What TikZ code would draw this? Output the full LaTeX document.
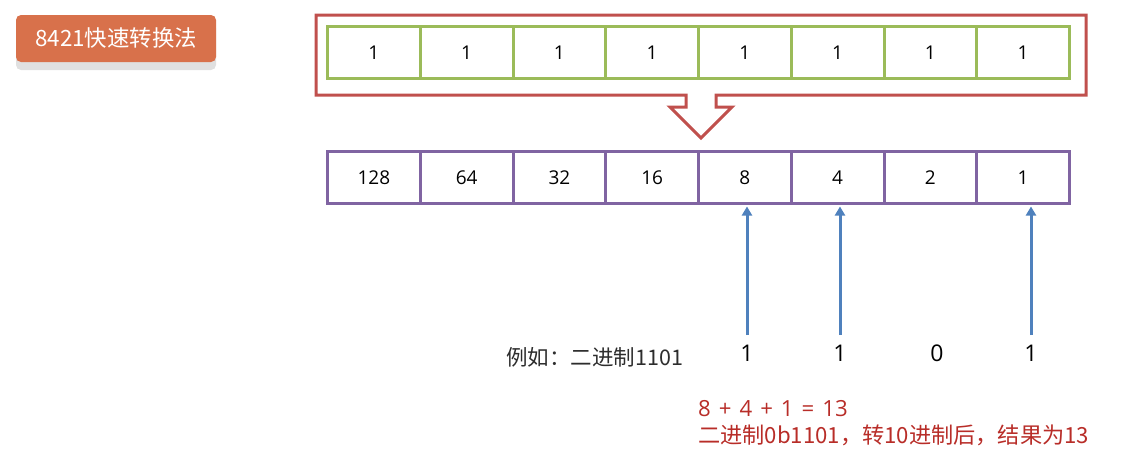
\documentclass[tikz,border=0pt]{standalone}
\usepackage{fontspec}
\setmainfont{Noto Sans CJK SC}
\newfontfamily\latinfont{Open Sans}
\usetikzlibrary{arrows.meta,shadows}
\definecolor{boxred}{RGB}{192,80,77}
\definecolor{boxgreen}{RGB}{155,187,89}
\definecolor{boxpurple}{RGB}{128,100,162}
\definecolor{arrowblue}{RGB}{79,129,189}
\definecolor{titleorange}{RGB}{216,113,75}
\definecolor{notered}{RGB}{184,45,40}
\definecolor{textgray}{RGB}{45,45,45}
\begin{document}
\begin{tikzpicture}[x=1pt,y=-1pt,
  cellg/.style={draw=boxgreen,line width=3pt,minimum width=92.75pt,minimum height=52pt,inner sep=0pt,anchor=north west,font=\latinfont\fontsize{19}{20}\selectfont},
  cellp/.style={draw=boxpurple,line width=3pt,minimum width=92.75pt,minimum height=52pt,inner sep=0pt,anchor=north west,font=\latinfont\fontsize{19}{20}\selectfont},
  bit/.style={inner sep=0pt,text height=16pt,text depth=0pt,font=\latinfont\fontsize{23}{26}\selectfont,text=black},
  uparrow/.style={draw=arrowblue,line width=3pt,-{Triangle[width=10pt,length=9pt]},shorten <=10pt,shorten >=1.5pt},
  title/.style={fill=titleorange,rounded corners=5pt,minimum width=200pt,minimum height=47pt,text=white,font=\fontsize{22.4}{24}\selectfont,drop shadow={shadow xshift=0pt,shadow yshift=-8pt,fill=black!12,opacity=1}},
  note/.style={text=notered,font=\fontsize{22.2}{27}\selectfont,align=left,inner sep=0pt,anchor=north west}
]
\useasboundingbox (0,0) rectangle (1133,469);
% title
\node[title] (t) at (116,38.5) {8421快速转换法};
% red callout arrow
\draw[boxred,line width=3pt,line join=miter]
  (316,15) -- (1086,15) -- (1086,95) -- (716,95) -- (716,107) -- (732,107)
  -- (701,138) -- (670,107) -- (686,107) -- (686,95) -- (316,95) -- cycle;
% green row
\foreach \i in {1,...,8}{
  \node[cellg] (g\i) at ({326+(\i-1)*92.75},25) {1};
}
% purple row
\foreach \i/\v in {1/128,2/64,3/32,4/16,5/8,6/4,7/2,8/1}{
  \node[cellp] (p\i) at ({326+(\i-1)*92.75},150) {\v};
}
% bits
\node[bit] (d5) at (747,345) [anchor=north] {1};
\node[bit] (d6) at (840,345) [anchor=north] {1};
\node[bit] (d7) at (937,345) [anchor=north] {0};
\node[bit] (d8) at (1031,345) [anchor=north] {1};
\node[text=textgray,font=\fontsize{21.5}{24}\selectfont,inner sep=0pt,anchor=west] (ex) at (506,357) {例如：二进制1101};
% arrows
\draw[uparrow] (d5.north) -- (d5.north |- p5.south);
\draw[uparrow] (d6.north) -- (d6.north |- p6.south);
\draw[uparrow] (d8.north) -- (d8.north |- p8.south);
% note
\node[note] (n) at (698,400) {{\latinfont\spaceskip=0.36em 8 + 4 + 1 = 13}\\二进制0b1101，转10进制后，结果为13};
\end{tikzpicture}
\end{document}
